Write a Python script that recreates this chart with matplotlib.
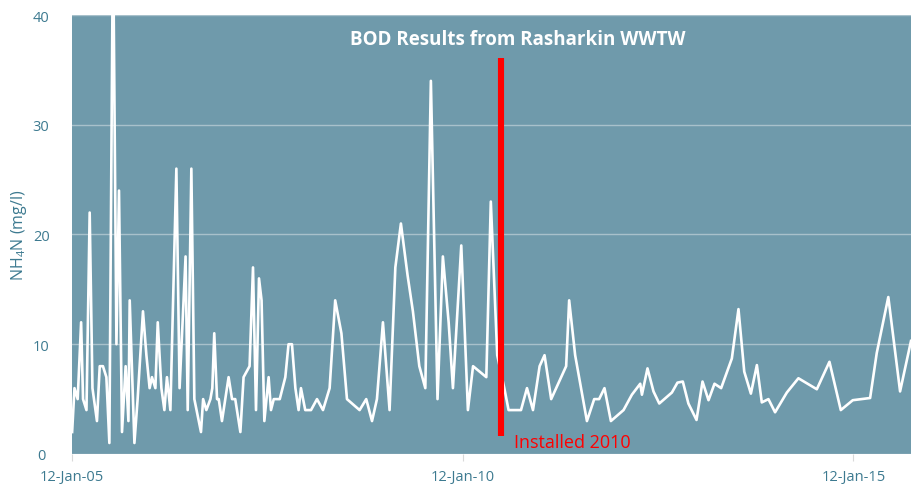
import numpy as np
import matplotlib
matplotlib.use("Agg")
import matplotlib.pyplot as plt
import matplotlib.dates as mdates

plt.rcParams['font.family'] = ['Open Sans', 'DejaVu Sans']
plt.rcParams['mathtext.fontset'] = 'custom'
plt.rcParams['mathtext.rm'] = 'Open Sans'
plt.rcParams['mathtext.it'] = 'Open Sans'

# sample day, counted from 12-Jan-05
start = np.datetime64('2005-01-12')
sample_day = [2, 13, 28, 44, 53, 69, 84, 97, 118, 131, 146, 162, 176, 193, 209, 221,
              235, 252, 265, 271, 293, 308, 333, 349, 364, 375, 391, 402, 419, 433,
              445, 461, 489, 504, 532, 542, 559, 573, 604, 614, 629, 648, 657, 666,
              679, 687, 702, 733, 749, 764, 788, 803, 831, 847, 861, 875, 887, 900,
              920, 931, 944, 972, 998, 1013, 1029, 1045, 1060, 1071, 1091, 1118,
              1146, 1174, 1205, 1231, 1260, 1286, 1345, 1376, 1403, 1426, 1454,
              1485, 1512, 1538, 1569, 1594, 1624, 1652, 1678, 1709, 1734, 1761,
              1781, 1820, 1851, 1875, 1937, 1958, 1988, 2021, 2041, 2099, 2127,
              2155, 2186, 2209, 2240, 2310, 2324, 2352, 2407, 2441, 2464, 2489,
              2519, 2578, 2617, 2656, 2664, 2690, 2718, 2745, 2804, 2830, 2855,
              2881, 2919, 2947, 2975, 3003, 3034, 3084, 3115, 3142, 3173, 3201,
              3224, 3255, 3286, 3341, 3395, 3481, 3540, 3593, 3649, 3730, 3761,
              3815, 3870, 3921]
nh4n = [2, 6, 5, 12, 5, 4, 22, 6, 3, 8, 8, 7, 1, 48, 10, 24,
        2, 8, 3, 14, 1, 5, 13, 9, 6, 7, 6, 12, 6, 4,
        7, 4, 26, 6, 18, 4, 26, 5, 2, 5, 4, 5, 6, 11,
        5, 5, 3, 7, 5, 5, 2, 7, 8, 17, 4, 16, 14, 3,
        7, 4, 5, 5, 7, 10, 10, 6, 4, 6, 4, 4,
        5, 4, 6, 14, 11, 5, 4, 5, 3, 5, 12,
        4, 17, 21, 16.3, 13, 8, 6, 34, 5, 18, 12,
        6, 19, 4, 8, 7, 23, 9, 6, 4, 4, 6,
        4, 8, 9, 5, 8, 14, 9, 3, 5, 5, 6,
        3, 4, 5.4, 6.4, 5.4, 7.8, 5.7, 4.6, 5.6, 6.5, 6.6,
        4.6, 3.1, 6.6, 4.9, 6.4, 6, 8.7, 13.2, 7.5, 5.5, 8.1,
        4.7, 5, 3.8, 5.6, 6.9, 5.9, 8.4, 4, 4.9, 5.1, 9.2,
        14.3, 5.7, 10.3]

install_date = np.datetime64('2010-07-11')
install_span = [1.6, 36.1]
tick_dates = ['2005-01-12', '2010-01-12', '2015-01-12']
y_ticks = [0, 10, 20, 30, 40]

bg = '#6f9aab'
label_col = '#3d7a90'

dates = start + np.array(sample_day, dtype='timedelta64[D]')

fig = plt.figure(figsize=(9.11, 4.85), dpi=100)
ax = fig.add_axes([0.0787, 0.0619, 0.9213, 0.9051])
ax.set_facecolor(bg)

ax.plot(dates, nh4n, color='white', lw=1.9, zorder=3)
ax.vlines(install_date, install_span[0], install_span[1], color='#ff0000', lw=4.4, zorder=4)
ax.text(install_date + np.timedelta64(60, 'D'), 0.6, 'Installed 2010', color='#ff0000',
        fontsize=13, ha='left', va='baseline', zorder=5)

ax.set_ylim(0, 40)
ax.set_xlim(start, start + np.timedelta64(3921, 'D'))
ax.set_yticks(y_ticks)
ax.set_xticks([np.datetime64(d) for d in tick_dates])
ax.xaxis.set_major_formatter(mdates.DateFormatter('%d-%b-%y'))
ax.grid(axis='y', color='#b7ccd4', lw=1.0, alpha=0.8, zorder=1)
ax.grid(axis='x', visible=False)
for s in ax.spines.values():
    s.set_visible(False)
ax.tick_params(axis='y', length=0, labelsize=10.5, labelcolor=label_col, pad=22)
ax.tick_params(axis='x', length=5, color='#d9d9d9', labelsize=10.5, labelcolor=label_col, pad=5.5)
for lbl in ax.get_yticklabels():
    lbl.set_horizontalalignment('center')

ax.set_ylabel(r'NH$_\mathrm{4}$N (mg/l)', color=label_col, fontsize=11.5, labelpad=6)
ax.yaxis.set_label_coords(-0.051, 0.5)
ax.set_title('BOD Results from Rasharkin WWTW', color='white', fontsize=13.5,
             fontweight='bold', y=0.915, x=0.531)

fig.savefig('out.png', dpi=100)
